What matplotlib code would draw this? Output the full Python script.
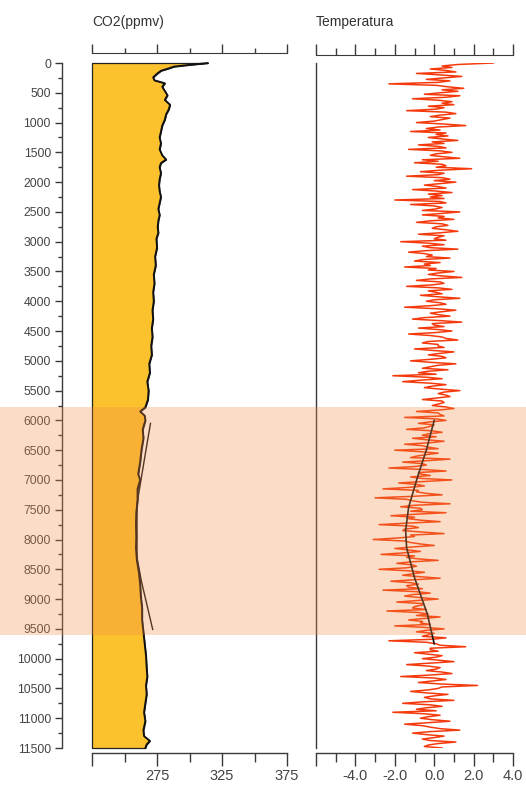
"""
Holocene CO2 (ppmv) and temperature anomaly against age, two side-by-side
depth-style panels with a shaded interval across the whole figure.
"""

import numpy as np
import matplotlib.pyplot as plt
from matplotlib import transforms
from matplotlib.patches import Rectangle
from matplotlib.ticker import FixedLocator

plt.rcParams['font.family'] = ['Liberation Sans', 'DejaVu Sans']

# CO2 record (age in years BP, ppmv)
co2_age = [0, 20, 40, 60, 90, 130, 180, 240, 290, 340,
           400, 470, 540, 620, 700, 780, 860, 950, 1050, 1150,
           1250, 1350, 1450, 1550, 1620, 1680, 1750, 1850, 1950, 2050,
           2150, 2250, 2350, 2450, 2550, 2650, 2750, 2850, 2950, 3100,
           3250, 3400, 3550, 3700, 3850, 4000, 4150, 4300, 4450, 4600,
           4750, 4900, 5050, 5200, 5350, 5500, 5650, 5780, 5850, 5920,
           6000, 6150, 6300, 6500, 6700, 6900, 7000, 7150, 7350, 7550,
           7750, 7950, 8150, 8350, 8550, 8750, 8950, 9150, 9350, 9550,
           9750, 9950, 10150, 10300, 10450, 10600, 10750, 10900, 11050, 11200,
           11300, 11380, 11440, 11500]
co2_ppm = [314, 305, 296, 288, 284, 278, 275, 272, 273, 281,
           279, 281, 283, 281, 285, 284, 282, 281, 279, 278,
           277, 278, 277, 279, 282, 278, 277, 278, 277, 276.5,
           277, 278, 277, 276, 277, 276, 275.5, 276, 274.5, 275,
           273.5, 274, 272.5, 273, 272, 272.5, 271.5, 272, 271, 271.5,
           270.5, 271, 269, 269.5, 267.5, 268.5, 268, 266, 262, 265.5,
           266, 264, 264.5, 263, 262, 260.5, 262, 260, 260, 259,
           258.8, 259, 258.8, 259.5, 261, 262, 262.5, 263.5, 263.5, 264.5,
           265.5, 266.5, 267, 267.5, 266.5, 267, 266, 265, 266, 264.5,
           265, 269.5, 267, 266]

# temperature anomaly, one value every 25 years from 0 to 11500
temp_step = 25
temp_anom = [
    3.0, 1.2, 0.4, 0.9, -0.2, 0.6, 1.1, -0.9, 0.3, 1.4, 0.5, -0.4, 0.8, 0.2, -2.3, 0.1, 0.7, 1.5, 0.4, 1.2,
    0.3, -0.5, 1.3, 0.6, -1.1, 0.2, 0.9, 0.4, 1.0, -0.3, 0.5, 0.1, -1.4, 0.6, 1.1, 0.3, -0.2, 0.8, 0.4, 0.0,
    -0.9, 0.5, 1.6, 0.2, -0.4, 0.3, -1.2, 0.6, 0.1, 0.7, -0.3, 0.4, 1.2, -0.1, 0.5, -0.8, 0.2, 0.6, -1.3, 0.3,
    0.9, 0.1, -0.2, 0.5, 1.3, -0.6, 0.2, -1.0, 0.4, 0.6, 0.1, 1.9, 0.3, -0.7, 0.5, 0.2, -1.4, 0.4, 0.8, 0.0,
    1.1, 0.3, -0.5, 0.2, 0.6, -1.1, 0.1, 0.9, -0.3, 0.4, -0.2, 0.5, -2.0, 0.3, 0.6, -1.2, 0.0, 0.4, 0.1, -0.6,
    1.3, 0.4, -0.6, 0.5, 0.2, 1.0, -0.2, -0.9, 0.4, 0.7, 0.1, -0.1, 0.6, 1.2, 0.3, -0.8, 0.5, 0.2, 0.0, 0.6,
    -1.7, -0.3, 0.5, -0.6, -0.2, 1.2, -0.4, -1.3, -0.5, -0.1, -0.4, 0.8, -0.6, -1.0, 0.3, -0.5, -0.2, -1.5, 0.1, -0.3,
    1.0, 0.2, -0.3, 0.4, 1.4, -0.2, -0.9, 0.3, 0.5, -0.1, -1.4, 0.2, 0.9, -0.3, 0.1, 0.4, -0.7, 0.2, 1.3, 0.0,
    -0.4, 0.3, 0.6, -0.2, -1.5, 0.1, 1.1, 0.4, -0.2, 0.2, 0.8, -0.5, -1.1, 0.3, 1.4, -0.1, 0.0, 0.5, -0.8, 0.2,
    0.9, 0.1, -1.3, -0.2, 0.4, 0.6, 1.2, -0.3, -0.6, 0.2, 0.2, 0.5, -1.0, -0.1, 1.0, 0.3, -0.3, 0.4, 0.6, -0.2,
    -1.2, -0.2, 1.1, 0.2, -0.2, -0.6, 0.7, -0.3, -0.8, 0.1, -2.1, -0.4, 0.4, -0.7, -1.6, -0.2, 0.6, -0.1, -0.5, 0.3,
    1.3, 0.5, 0.2, 0.6, 0.8, 0.1, -0.6, 0.4, 0.5, 0.2, -0.1, 0.6, 1.0, 0.3, -0.9, 0.2, 0.3, 0.5, -1.5, 0.1,
    0.6, -0.2, -0.8, 0.0, -0.2, -0.5, -1.4, -0.1, 0.4, -0.3, -0.6, 0.1, -1.1, -0.4, 0.5, -0.2, -1.5, -0.6, -0.3, 0.2,
    -2.0, -0.7, 0.2, -0.4, -0.9, -1.2, 0.8, -0.3, -1.6, -0.6, -0.4, -1.0, -2.3, -0.5, 0.6, -0.8, -0.7, -0.2, -1.2, -0.6,
    0.9, -0.5, -1.8, -0.9, -0.5, -1.3, -2.6, -0.8, -0.9, -0.4, 0.4, -1.1, -3.0, -1.4, -1.1, -0.6, 0.8, -1.0, -1.7, -0.7,
    -0.6, -1.2, 0.6, -0.9, -2.2, -1.0, -1.3, -0.7, 0.3, -1.4, -2.8, -1.1, -0.8, -1.5, -1.6, -0.6, 0.5, -1.2, -1.0, -1.9,
    -3.1, -1.5, -1.2, -0.7, 0.0, -1.1, -2.0, -1.3, -0.7, -1.6, -2.7, -1.0, -1.4, -0.8, 0.2, -1.2, -1.9, -1.1, -0.9, -1.4,
    -2.8, -1.3, -0.5, -1.1, -1.6, -0.7, 0.3, -1.0, -2.2, -1.2, -0.8, -1.4, -1.3, -0.6, -2.6, -0.9, -0.2, -1.1, -1.5, -0.7,
    0.2, -0.9, -1.9, -0.6, -0.6, -1.0, -1.1, -0.4, -2.4, -0.8, -0.3, -0.9, 0.3, -0.5, -1.3, -0.6, -0.7, -0.2, -2.0, -0.5,
    0.5, -0.4, -0.9, 0.0, -0.3, -0.6, 0.6, -0.1, -2.3, -0.4, 0.1, 0.3, 1.6, -0.2, -0.2, 0.2, -1.0, -0.3, 0.4, 0.1,
    -0.6, 0.2, 1.0, -0.2, -1.4, -0.3, 0.3, 0.1, -0.4, 0.4, 0.9, -0.2, -1.7, 0.0, 0.6, -0.1, -0.8, 0.3, 2.2, 0.4,
    0.2, -0.3, -1.2, -0.4, 0.7, 0.0, -0.5, -0.2, 1.0, -0.6, -1.6, -0.2, 0.4, -0.4, -0.9, 0.1, -2.1, -0.5, 0.3, -0.3,
    -0.7, -0.1, 0.8, -0.3, -1.5, -0.6, -0.2, 0.3, 1.3, -0.2, -1.1, -0.4, 0.5, 0.0, -0.6, -0.2, 1.1, 0.2, -0.3, -0.5,
    0.4,
]

# smoothed trends over the shaded interval
co2_trend_age = [6050, 6500, 7400, 8300, 8700, 9510]
co2_trend_ppm = [270, 266.5, 259.6, 259.6, 263, 271.7]
temp_trend_age = [6000, 6500, 6900, 7460, 7850, 8140, 8640, 9250, 9750]
temp_trend_val = [0.0, -0.4, -0.8, -1.3, -1.45, -1.4, -1.0, -0.35, 0.0]

band_start, band_end = 5770, 9600

co2_ticks = [225, 275, 325, 375]
co2_labels = ['', '275', '325', '375']
co2_minor = [250, 300, 350]
temp_ticks = [-6, -4, -2, 0, 2, 4]
temp_labels = ['', '-4.0', '-2.0', '0.0', '2.0', '4.0']
temp_minor = [-5, -3, -1, 1, 3]
age_ticks = list(range(0, 11501, 500))
age_minor = list(range(250, 11500, 500))

SPINE = '#3a3a3a'
TXT = '#444444'

fig = plt.figure(figsize=(5.26, 7.91), dpi=100)
ax1 = fig.add_axes([92 / 526, 1 - 748 / 791, 195 / 526, 685 / 791])
ax2 = fig.add_axes([316 / 526, 1 - 748 / 791, 197 / 526, 685 / 791])

for ax in (ax1, ax2):
    ax.set_ylim(11500, 0)
    ax.spines['right'].set_visible(False)
    ax.spines['top'].set_visible(False)
    ax.spines['bottom'].set_position(('outward', 3.6))
    for s in ax.spines.values():
        s.set_color(SPINE)
        s.set_linewidth(1.0)
    ax.tick_params(axis='x', which='major', length=9.5, width=1.0, color=SPINE,
                   labelsize=10.5, labelcolor=TXT, pad=2)
    ax.tick_params(axis='x', which='minor', length=6.5, width=1.0, color=SPINE)

# CO2 panel
ax1.set_xlim(225, 375)
ax1.fill_betweenx(co2_age, 225, co2_ppm, facecolor='#FCC22E', edgecolor='#222222',
                  linewidth=0.9, clip_on=False)
ax1.plot(co2_ppm, co2_age, color='#111111', lw=1.3, clip_on=False)
ax1.plot(co2_trend_ppm, co2_trend_age, color='#111111', lw=1.0)

ax1.xaxis.set_major_locator(FixedLocator(co2_ticks))
ax1.xaxis.set_minor_locator(FixedLocator(co2_minor))
ax1.set_xticklabels(co2_labels)

ax1.spines['left'].set_position(('outward', 21.6))
ax1.yaxis.set_major_locator(FixedLocator(age_ticks))
ax1.yaxis.set_minor_locator(FixedLocator(age_minor))
ax1.tick_params(axis='y', which='major', length=5, width=1.0, color=SPINE,
                labelsize=8.8, labelcolor=TXT, pad=3)
ax1.tick_params(axis='y', which='minor', length=3, width=1.0, color=SPINE)

top1 = ax1.secondary_xaxis(1 + 10 / 685)
top1.xaxis.set_major_locator(FixedLocator(co2_ticks))
top1.xaxis.set_minor_locator(FixedLocator(co2_minor))
top1.tick_params(which='major', length=6.5, width=1.0, color=SPINE, labeltop=False)
top1.tick_params(which='minor', length=3.6, width=1.0, color=SPINE)
top1.spines['top'].set_color(SPINE)

# temperature panel
ax2.set_xlim(-6, 4)
temp_age = np.arange(len(temp_anom)) * temp_step
ax2.plot(temp_anom, temp_age, color='#F43A0C', lw=1.1)
ax2.plot(temp_trend_val, temp_trend_age, color='#111111', lw=1.2, zorder=3)

ax2.xaxis.set_major_locator(FixedLocator(temp_ticks))
ax2.xaxis.set_minor_locator(FixedLocator(temp_minor))
ax2.set_xticklabels(temp_labels)
ax2.tick_params(axis='y', which='both', left=False, labelleft=False)

top2 = ax2.secondary_xaxis(1 + 8 / 685)
top2.xaxis.set_major_locator(FixedLocator(temp_ticks))
top2.xaxis.set_minor_locator(FixedLocator(temp_minor))
top2.tick_params(which='major', length=8, width=1.0, color=SPINE, labeltop=False)
top2.tick_params(which='minor', length=5, width=1.0, color=SPINE)
top2.spines['top'].set_color(SPINE)

fig.text(92 / 526, 1 - 22 / 791, 'CO2(ppmv)', fontsize=10, color='#333333', va='center')
fig.text(316 / 526, 1 - 22 / 791, 'Temperatura', fontsize=10, color='#333333', va='center')

# shaded interval across the whole figure, drawn over everything
band_tr = transforms.blended_transform_factory(fig.transFigure, ax1.transData)
fig.add_artist(Rectangle((0, band_start), 1, band_end - band_start, transform=band_tr,
                         facecolor=(242 / 255, 140 / 255, 70 / 255), alpha=0.3,
                         edgecolor='none', zorder=10))

fig.savefig('out.png', dpi=100)
